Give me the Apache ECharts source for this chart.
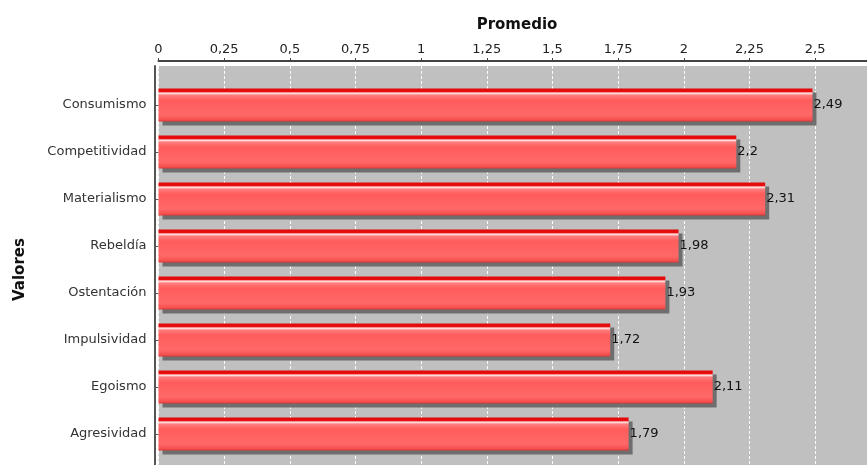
<!DOCTYPE html>
<html>
<head>
<meta charset="utf-8">
<script src="https://cdn.jsdelivr.net/npm/echarts@6/dist/echarts.min.js"></script>
<style>
html,body{margin:0;padding:0;background:#fff;}
#chart{width:867px;height:465px;}
</style>
</head>
<body>
<div id="chart"></div>
<script>
var categories = ['Consumismo','Competitividad','Materialismo','Rebeldía','Ostentación','Impulsividad','Egoismo','Agresividad'];
var values = [2.49, 2.2, 2.31, 1.98, 1.93, 1.72, 2.11, 1.79];
var xTitle = 'Promedio';
var yTitle = 'Valores';
var xMin = 0, xMax = 2.73, xStep = 0.25;

function fmt(v){ return String(Math.round(v*100)/100).replace('.', ','); }

var chart = echarts.init(document.getElementById('chart'), null, {renderer:'canvas'});
var font = 'DejaVu Sans';
var barGrad = new echarts.graphic.LinearGradient(0,0,0,1,[
  {offset:0, color:'#e00808'},
  {offset:0.115, color:'#e81010'},
  {offset:0.125, color:'#ffe4e4'},
  {offset:0.17, color:'#ffd0d0'},
  {offset:0.19, color:'#ff8080'},
  {offset:0.35, color:'#ff5c5c'},
  {offset:0.8, color:'#ff6868'},
  {offset:0.94, color:'#f65050'},
  {offset:1, color:'#d83838'}
]);
chart.setOption({
  animation:false,
  grid:[
    {left:158.5, width:717, top:66, height:407, show:true, backgroundColor:'#c0c0c0', borderWidth:0, outerBoundsMode:'none', containLabel:false},
    {left:158.5, width:717, top:81.5, height:376, show:false, outerBoundsMode:'none', containLabel:false}
  ],
  xAxis:[
    {type:'value', gridIndex:0, position:'top', offset:5, min:xMin, max:xMax, interval:xStep,
     name:xTitle, nameLocation:'middle', nameGap:28,
     nameTextStyle:{fontFamily:font, fontWeight:'bold', fontSize:15, color:'#111'},
     axisLine:{show:true, onZero:false, lineStyle:{color:'#444', width:2}},
     axisTick:{show:true, length:3, lineStyle:{color:'#444'}},
     axisLabel:{showMaxLabel:false, margin:5, fontFamily:font, fontSize:13, color:'#222', formatter:fmt},
     splitLine:{show:true, lineStyle:{color:'#ffffff', type:[3,2], width:1}}
    },
    {type:'value', gridIndex:1, min:xMin, max:xMax, interval:xStep, show:false, splitLine:{show:false}}
  ],
  yAxis:[
    {type:'value', gridIndex:0, offset:4, min:0, max:1, axisLine:{show:true, onZero:false, lineStyle:{color:'#555', width:2}},
     axisTick:{show:false}, axisLabel:{show:false}, splitLine:{show:false}},
    {type:'category', gridIndex:1, data:categories, inverse:true, offset:4,
     name:yTitle, nameLocation:'middle', nameRotate:90, nameGap:127,
     nameTextStyle:{fontFamily:font, fontWeight:'bold', fontSize:15, color:'#111'},
     axisLine:{show:false},
     axisTick:{show:true, alignWithLabel:true, length:3, lineStyle:{color:'#555'}},
     axisLabel:{margin:8, fontFamily:font, fontSize:13, color:'#333'},
     splitLine:{show:false}
    }
  ],
  series:[{
    type:'bar', xAxisIndex:1, yAxisIndex:1, data:values, barWidth:33,
    itemStyle:{color:barGrad, shadowColor:'#6e6e6e', shadowOffsetX:4, shadowOffsetY:4, shadowBlur:0},
    label:{show:true, position:'right', distance:1, fontFamily:font, fontSize:13, color:'#111', formatter:function(p){return fmt(p.value);}}
  }]
});
</script>
</body>
</html>
